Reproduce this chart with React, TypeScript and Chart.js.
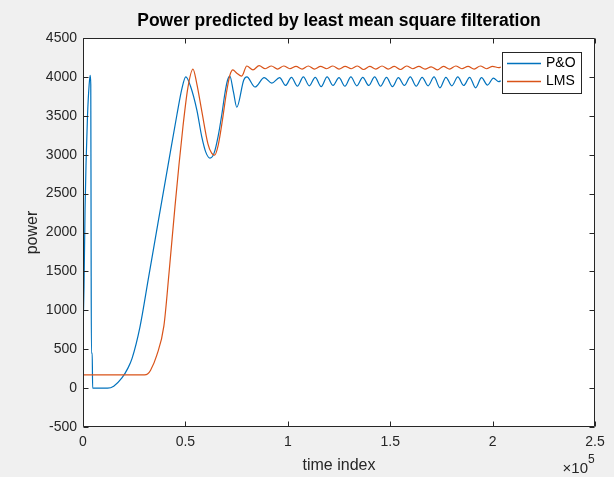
import React, { useEffect, useRef } from "react";
import { Chart, registerables } from "chart.js";

Chart.register(...registerables);

const TITLE = "Power predicted by least mean square filteration";
const X_LABEL = "time index";
const Y_LABEL = "power";
const SERIES_NAMES = ["P&O", "LMS"];
const X_TICKS = [0, 50000, 100000, 150000, 200000, 250000];
const Y_TICKS = [-500, 0, 500, 1000, 1500, 2000, 2500, 3000, 3500, 4000, 4500];

// P&O series (time index, power)
const PO_T = [
  0, 500, 1000, 1500, 2200, 3000, 3500, 3800, 3950, 4100, 4500, 4700,
  12000, 15000, 19000, 22000, 24000, 27800, 32000, 36600, 41500, 45900, 48300, 50200,
  52500, 55600, 58000, 60000, 62000, 64000, 66000, 67800, 69300, 70500, 71700,
  73500, 75100, 78500,
  80000, 84000, 88500, 92200, 96000, 98900, 101800, 104700, 107600, 110500, 113400,
  116300, 119200, 122100, 125000, 127900, 130800, 133700, 136600, 139500, 142400,
  145300, 148200, 151100, 154000, 156900, 159800, 162700, 165600, 168500, 171400,
  174300, 177200, 180100, 183000, 185900, 188800, 191700, 194600, 197500, 200400,
  203000, 204000,
];
const PO_V = [
  700, 1300, 2300, 2900, 3500, 3900, 4020, 3900, 2000, 450, 450, 0,
  0, 25, 130, 260, 385, 784, 1420, 2120, 2860, 3520, 3850, 4000,
  3880, 3573, 3230, 3030, 2956, 3020, 3240, 3520, 3790, 3950, 4010,
  3800, 3610, 3960,
  4000, 3870, 3990, 3920, 3990, 3890, 3995, 3880, 4000, 3885, 3995,
  3875, 4000, 3890, 3990, 3880, 4000, 3885, 3995, 3890, 4000,
  3880, 3995, 3875, 3990, 3890, 4000, 3880, 3995, 3885, 4000,
  3860, 3995, 3885, 4000, 3890, 3995, 3860, 3990, 3895, 3985,
  3940, 3950,
];

// LMS series (time index, power)
const LMS_T = [
  0, 30000, 31500, 33000, 36000, 39500, 42000, 44900, 46900, 48800, 51200, 53700,
  55500, 58000, 61000, 62800, 64300, 66000, 68000, 70000, 71700, 73200, 75000, 77500,
  80000, 83000, 86000, 89000, 92000, 95000, 98000, 101000, 104000, 107000, 110000,
  113000, 116000, 119000, 122000, 125000, 128000, 131000, 134000, 137000, 140000,
  143000, 146000, 149000, 152000, 155000, 158000, 161000, 164000, 167000, 170000,
  173000, 176000, 179000, 182000, 185000, 188000, 191000, 194000, 197000, 200000,
  203000, 204000,
];
const LMS_V = [
  170, 170, 180, 230, 420, 800, 1480, 2330, 2880, 3360, 3860, 4100,
  3920, 3560, 3140, 3020, 2995, 3120, 3430, 3790, 4020, 4090, 4050, 4010,
  4140, 4090, 4145, 4105, 4140, 4100, 4140, 4105, 4135, 4100, 4140,
  4100, 4135, 4105, 4140, 4100, 4135, 4105, 4140, 4095, 4135,
  4100, 4140, 4100, 4135, 4095, 4140, 4105, 4135, 4100, 4130,
  4090, 4135, 4100, 4140, 4105, 4135, 4100, 4140, 4105, 4135,
  4120, 4125,
];

const BLUE = "#0072BD";
const ORANGE = "#D95319";
const AXIS = "#262626";
const FONT = "'Liberation Sans', Arial, Helvetica, sans-serif";

const boxPlugin = {
  id: "matlabBox",
  beforeDatasetsDraw(chart: any) {
    const ctx = chart.ctx;
    const { left, right, top, bottom } = chart.chartArea;
    ctx.save();
    ctx.fillStyle = "#ffffff";
    ctx.fillRect(left, top, right - left, bottom - top);
    ctx.restore();
  },
  afterDraw(chart: any) {
    const ctx = chart.ctx;
    const { left, right, top, bottom } = chart.chartArea;
    const xs = chart.scales.x;
    const ys = chart.scales.y;
    ctx.save();
    ctx.setLineDash([]);
    ctx.strokeStyle = AXIS;
    ctx.lineWidth = 1;
    const L = Math.round(left) + 0.5;
    const R = Math.round(right) - 0.5;
    const T = Math.round(top) + 0.5;
    const B = Math.round(bottom) - 0.5;
    ctx.beginPath();
    ctx.rect(L, T, R - L, B - T);
    ctx.stroke();
    ctx.beginPath();
    for (const v of X_TICKS) {
      const px = Math.round(xs.getPixelForValue(v)) + 0.5;
      ctx.moveTo(px, B);
      ctx.lineTo(px, B - 5);
      ctx.moveTo(px, T);
      ctx.lineTo(px, T + 5);
    }
    for (const v of Y_TICKS) {
      const py = Math.round(ys.getPixelForValue(v)) + 0.5;
      ctx.moveTo(L, py);
      ctx.lineTo(L + 5, py);
      ctx.moveTo(R, py);
      ctx.lineTo(R - 5, py);
    }
    ctx.stroke();

    // title centred over the plot area
    ctx.fillStyle = "#000000";
    ctx.font = `bold 17.5px ${FONT}`;
    ctx.textAlign = "center";
    ctx.textBaseline = "middle";
    ctx.fillText(TITLE, (left + right) / 2, 21);

    // legend
    const lx = 502.5, ly = 52.5, lw = 79, lh = 41;
    ctx.fillStyle = "#ffffff";
    ctx.fillRect(lx, ly, lw, lh);
    ctx.strokeStyle = AXIS;
    ctx.lineWidth = 1;
    ctx.strokeRect(lx, ly, lw, lh);
    ctx.font = `14px ${FONT}`;
    ctx.textBaseline = "middle";
    ctx.textAlign = "left";
    const legendColors = [BLUE, ORANGE];
    for (let i = 0; i < SERIES_NAMES.length; i++) {
      const y = 63.5 + i * 18;
      ctx.beginPath();
      ctx.strokeStyle = legendColors[i];
      ctx.lineWidth = 1.3;
      ctx.moveTo(507, y);
      ctx.lineTo(541, y);
      ctx.stroke();
      ctx.fillStyle = "#000000";
      ctx.fillText(SERIES_NAMES[i], 546, y);
    }

    // exponent label
    ctx.fillStyle = AXIS;
    ctx.textBaseline = "alphabetic";
    ctx.textAlign = "right";
    ctx.font = `15px ${FONT}`;
    ctx.fillText("\u00d710", 588, 473);
    ctx.textAlign = "left";
    ctx.font = `12px ${FONT}`;
    ctx.fillText("5", 588, 463);
    ctx.restore();
  },
};

export default function App() {
  const ref = useRef<HTMLCanvasElement | null>(null);
  useEffect(() => {
    if (!ref.current) return;
    const po = PO_T.map((t, i) => ({ x: t, y: PO_V[i] }));
    const lms = LMS_T.map((t, i) => ({ x: t, y: LMS_V[i] }));
    const chart = new Chart(ref.current, {
      type: "line",
      data: {
        datasets: [
          {
            label: SERIES_NAMES[0],
            data: po,
            borderColor: BLUE,
            borderWidth: 1.2,
            pointRadius: 0,
            cubicInterpolationMode: "monotone",
            order: 1,
          },
          {
            label: SERIES_NAMES[1],
            data: lms,
            borderColor: ORANGE,
            borderWidth: 1.2,
            pointRadius: 0,
            cubicInterpolationMode: "monotone",
            order: 0,
          },
        ],
      },
      options: {
        animation: false,
        responsive: false,
        maintainAspectRatio: false,
        layout: { padding: { left: 0, right: 19, top: 38, bottom: 0 } },
        plugins: {
          legend: { display: false },
          tooltip: { enabled: false },
          title: { display: false },
        },
        scales: {
          x: {
            type: "linear",
            min: 0,
            max: 250000,
            afterFit: (s: any) => {
              s.height = 50;
            },
            afterBuildTicks: (s: any) => {
              s.ticks = X_TICKS.map((v) => ({ value: v }));
            },
            ticks: {
              color: AXIS,
              font: { family: FONT, size: 14 },
              padding: 7,
              maxRotation: 0,
              callback: (v: any) => String(Number(v) / 100000),
            },
            grid: { display: false, drawTicks: false },
            border: { display: false },
            title: {
              display: true,
              text: X_LABEL,
              color: AXIS,
              font: { family: FONT, size: 16 },
              padding: { top: 0, bottom: 1.4 },
            },
          },
          y: {
            type: "linear",
            min: -500,
            max: 4500,
            afterFit: (s: any) => {
              s.width = 83;
            },
            afterBuildTicks: (s: any) => {
              s.ticks = Y_TICKS.map((v) => ({ value: v }));
            },
            ticks: {
              color: AXIS,
              font: { family: FONT, size: 14 },
              padding: 6,
              callback: (v: any) => String(v),
            },
            grid: { display: false, drawTicks: false },
            border: { display: false },
            title: {
              display: true,
              text: Y_LABEL,
              color: AXIS,
              font: { family: FONT, size: 16 },
              padding: { top: 23.4, bottom: 0 },
            },
          },
        },
      },
      plugins: [boxPlugin],
    });
    return () => chart.destroy();
  }, []);

  return (
    <div
      style={{
        position: "absolute",
        left: 0,
        top: 0,
        width: 614,
        height: 477,
        background: "#f0f0f0",
      }}
    >
      <canvas
        ref={ref}
        width={614}
        height={477}
        style={{ display: "block", width: 614, height: 477 }}
      />
    </div>
  );
}
